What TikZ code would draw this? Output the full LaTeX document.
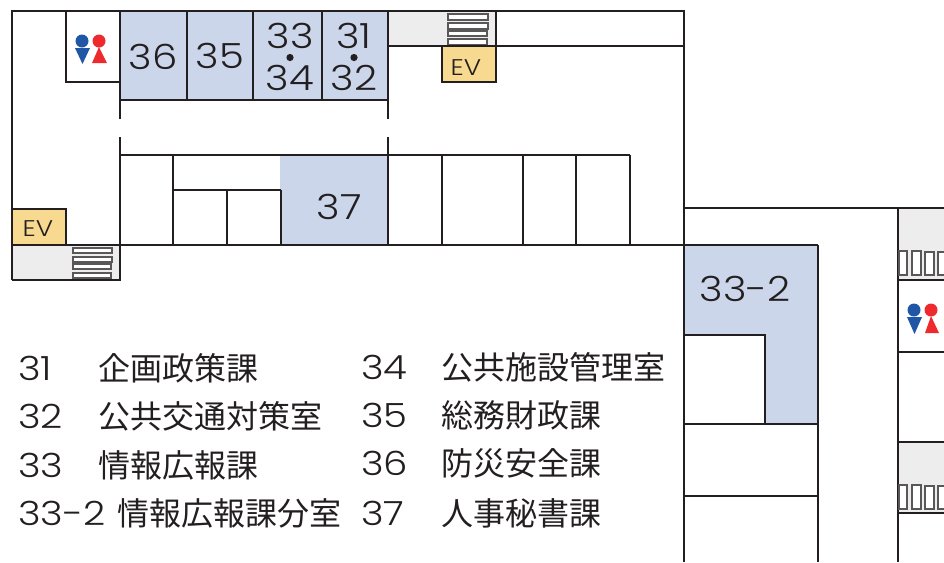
\documentclass[tikz,border=0pt]{standalone}
\usepackage{fontspec}
\setmainfont[FakeStretch=1.16,Numbers=Monospaced]{Poppins Light}
\newfontfamily\cjk{Noto Sans CJK JP}
\definecolor{ink}{HTML}{231F20}
\definecolor{roomblue}{HTML}{CBD6EA}
\definecolor{evyellow}{HTML}{F7D98F}
\definecolor{stairgray}{HTML}{EDEDED}
\definecolor{manblue}{HTML}{1F56A5}
\definecolor{womanred}{HTML}{EE2A2E}
\tikzset{
    wall/.style={draw=ink,line width=1.4pt},
    thinwall/.style={draw=ink,line width=0.9pt},
    stairstep/.style={draw=ink!75,line width=0.8pt,fill=white},
    evbox/.style={draw=ink,line width=2.2pt,fill=evyellow},
    roomnum/.style={inner sep=0pt,text=ink,font=\fontsize{26}{26}\selectfont},
    evlabel/.style={inner sep=0pt,text=ink,font=\fontsize{17}{17}\selectfont},
    legendnum/.style={inner sep=0pt,anchor=west,text=ink,font=\fontsize{25}{25}\selectfont},
    legendname/.style={inner sep=0pt,anchor=west,text=ink,font=\cjk\fontsize{24}{24}\selectfont},
}
\begin{document}
\begin{tikzpicture}[x=0.75pt,y=-0.75pt]
    \useasboundingbox (0,0) rectangle (944,562);
    % fills
    \fill[roomblue] (120,11) rectangle (388,100);
    \fill[roomblue] (280,155) rectangle (388,245);
    \fill[roomblue] (684,245) -- (818,245) -- (818,425) -- (765,425) -- (765,335) -- (684,335) -- cycle;
    \fill[stairgray] (388,11) rectangle (496,46);
    \fill[stairgray] (12,245) rectangle (120,280);
    \fill[stairgray] (898,209) rectangle (944,280);
    \fill[stairgray] (898,442) rectangle (944,513);
    % outer walls
    \draw[wall] (120,119) -- (120,11);
    \draw[wall] (12,280) -- (12,11) -- (684,11) -- (684,208);
    \draw[thinwall] (684,208) -- (944,208);
    \draw[wall] (388,119) -- (388,11);
    \draw[wall] (12,280) -- (120,280) -- (120,137);
    \draw[wall] (388,137) -- (388,245);
    \draw[wall] (66,11) -- (66,82) -- (120,82);
    % upper rooms
    \draw[thinwall] (120,100) -- (388,100);
    \draw[thinwall] (187,11) -- (187,100);
    \draw[thinwall] (253,11) -- (253,100);
    \draw[thinwall] (322,11) -- (322,100);
    % middle rooms
    \draw[thinwall] (120,155) -- (630,155);
    \draw[thinwall] (12,245) -- (684,245);
    \draw[wall] (173,155) -- (173,245);
    \draw[thinwall] (173,190) -- (281,190);
    \draw[wall] (227,190) -- (227,245);
    \draw[wall] (281,190) -- (281,245);
    \draw[thinwall] (442,155) -- (442,245);
    \draw[thinwall] (523,155) -- (523,245);
    \draw[thinwall] (576,155) -- (576,245);
    \draw[thinwall] (630,155) -- (630,245);
    % top stair
    \draw[thinwall] (388,46) -- (684,46);
    \draw[wall] (496,11) -- (496,46);
    \draw[stairstep] (448,14) rectangle (488,20);
    \draw[stairstep] (448,23) rectangle (488,29);
    \draw[stairstep] (448,31) rectangle (487,36);
    \draw[stairstep] (448,39) rectangle (487,45);
    % lower left stair
    \draw[stairstep] (73,248) rectangle (112,253);
    \draw[stairstep] (73,257) rectangle (112,262);
    \draw[stairstep] (73,264) rectangle (111,269);
    \draw[stairstep] (73,273) rectangle (111,278);
    % elevators
    \draw[evbox] (442,46) rectangle (496,82);
    \draw[evbox] (12,209) rectangle (66,245);
    % right block
    \draw[wall] (684,208) -- (684,562);
    \draw[wall] (818,245) -- (818,562);
    \draw[wall] (684,245) -- (818,245);
    \draw[wall] (684,335) -- (765,335) -- (765,424);
    \draw[thinwall] (684,424) -- (818,424);
    \draw[thinwall] (684,496) -- (818,496);
    % far right block
    \draw[wall] (898,208) -- (898,562);
    \draw[thinwall] (898,280) -- (944,280);
    \draw[thinwall] (898,352) -- (944,352);
    \draw[thinwall] (898,442) -- (944,442);
    \draw[thinwall] (898,513) -- (944,513);
    \draw[stairstep] (899,251) rectangle (907,275);
    \draw[stairstep] (912,251) rectangle (921,275);
    \draw[stairstep] (925,252) rectangle (934,275);
    \draw[stairstep] (938,252) rectangle (947,275);
    \draw[stairstep] (899,485) rectangle (907,509);
    \draw[stairstep] (912,485) rectangle (921,509);
    \draw[stairstep] (925,486) rectangle (934,509);
    \draw[stairstep] (938,486) rectangle (947,509);
    % toilets
    \fill[manblue] (82,41) circle (6.5);
    \fill[manblue] (75,48) -- (90,48) -- (82.5,64) -- cycle;
    \fill[womanred] (99,41) circle (6.5);
    \fill[womanred] (99,47) -- (92,63) -- (107,63) -- cycle;
    \fill[manblue] (914,310) circle (6.5);
    \fill[manblue] (907,317) -- (922,317) -- (914.5,334) -- cycle;
    \fill[womanred] (931,310) circle (6.5);
    \fill[womanred] (931,316) -- (925,333) -- (939,333) -- cycle;
    % room numbers
    \node[roomnum] (n36) at (153,57) {36};
    \node[roomnum] (n35) at (220,56) {35};
    \node[roomnum] (n33) at (290,36) {33};
    \fill[ink] (290,57.5) circle (3.6);
    \node[roomnum] (n34) at (290,78) {34};
    \node[roomnum] (n31) at (354,36) {31};
    \fill[ink] (354,57.5) circle (3.6);
    \node[roomnum] (n32) at (354,78) {32};
    \node[roomnum] (n37) at (339,207) {37};
    \node[roomnum] (n332) at (745,289) {33-2};
    \node[evlabel] (ev1) at (466,68) {EV};
    \node[evlabel] (ev2) at (38,229) {EV};
    % legend
    \node[legendnum] (l31) at (18,368) {31};
    \node[legendname] (d31) at (98,368) {企画政策課};
    \node[legendnum] (l32) at (18,416) {32};
    \node[legendname] (d32) at (98,416) {公共交通対策室};
    \node[legendnum] (l33) at (18,465) {33};
    \node[legendname] (d33) at (98,465) {情報広報課};
    \node[legendnum] (l332) at (18,513) {33-2};
    \node[legendname] (d332) at (117,513) {情報広報課分室};
    \node[legendnum] (l34) at (361,367) {34};
    \node[legendname] (d34) at (441,367) {公共施設管理室};
    \node[legendnum] (l35) at (361,415) {35};
    \node[legendname] (d35) at (441,415) {総務財政課};
    \node[legendnum] (l36) at (361,463) {36};
    \node[legendname] (d36) at (441,463) {防災安全課};
    \node[legendnum] (l37) at (361,513) {37};
    \node[legendname] (d37) at (441,513) {人事秘書課};
\end{tikzpicture}
\end{document}
